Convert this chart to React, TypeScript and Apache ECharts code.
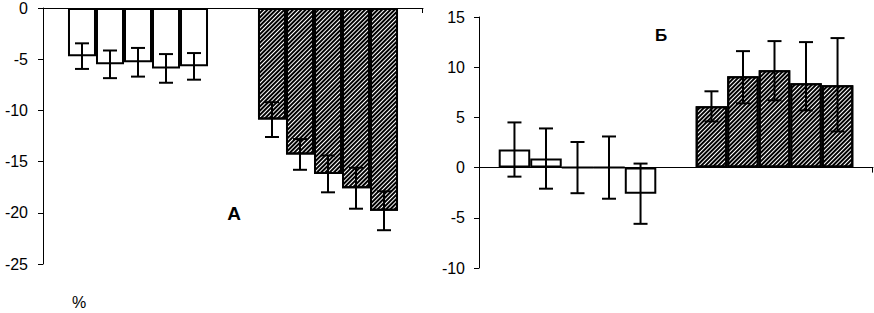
import React, { useEffect, useRef } from "react";
import * as echarts from "echarts";

// Categories (groups) – axis labels are not shown in the original figure
const groupsA = ["I", "II"];
const groupsB = ["I", "II"];
const yTicksA = { min: -25, max: 0, interval: 5 };
const yTicksB = { min: -10, max: 15, interval: 5 };

// Panel A (%), 5 bars per group: white group, hatched group
const whiteA = [-4.7, -5.5, -5.3, -5.9, -5.7];
const whiteAErr = [1.25, 1.35, 1.4, 1.4, 1.3];
const hatchA = [-10.9, -14.3, -16.2, -17.6, -19.8];
const hatchAErr = [1.7, 1.5, 1.8, 2.0, 1.9];

// Panel Б
const whiteB = [1.8, 0.9, 0, 0, -2.6];
const whiteBErr = [2.7, 3.0, 2.55, 3.1, 3.0];
const hatchB = [6.1, 9.1, 9.7, 8.4, 8.2];
const hatchBErrUp = [1.5, 2.5, 2.9, 4.1, 4.7];
const hatchBErrDown = [1.5, 2.7, 3.0, 2.7, 4.6];

const FONT = "Liberation Sans";
const N = 5;

const GRID_A = { left: 43, top: 8, width: 380, height: 256 };
const GRID_B = { left: 479, top: 17, width: 394, height: 251 };

const whiteStyle = { color: "#fff", borderColor: "#000", borderWidth: 2 };
const hatchStyle = {
  color: "#fff",
  borderColor: "#000",
  borderWidth: 2,
  decal: {
    symbol: "rect",
    symbolSize: 1,
    dashArrayX: [1, 0],
    dashArrayY: [2.0, 1.0],
    rotation: -Math.PI / 4,
    color: "#000",
  },
};

function barSeries(white: number[], hatch: number[], axisIdx: number, gap: string) {
  const out: any[] = [];
  for (let s = 0; s < N; s++) {
    out.push({
      type: "bar",
      xAxisIndex: axisIdx,
      yAxisIndex: axisIdx,
      barGap: "0%",
      barCategoryGap: gap,
      data: [
        { value: white[s], itemStyle: whiteStyle },
        { value: hatch[s], itemStyle: hatchStyle },
      ],
      z: 2,
    });
  }
  return out;
}

function errSeries(
  white: number[],
  whiteUp: number[],
  whiteDown: number[],
  hatch: number[],
  hatchUp: number[],
  hatchDown: number[],
  axisIdx: number,
  gapFrac: number
) {
  const data: number[][] = [];
  for (let s = 0; s < N; s++) data.push([0, s, white[s] - whiteDown[s], white[s] + whiteUp[s]]);
  for (let s = 0; s < N; s++) data.push([1, s, hatch[s] - hatchDown[s], hatch[s] + hatchUp[s]]);
  return {
    type: "custom",
    xAxisIndex: axisIdx,
    yAxisIndex: axisIdx,
    encode: { x: 0, y: [2, 3] },
    z: 5,
    data,
    renderItem: (_params: any, api: any) => {
      const cat = api.value(0);
      const s = api.value(1);
      const lo = api.value(2);
      const hi = api.value(3);
      const band = api.size([1, 0])[0];
      const bw = (band * (1 - gapFrac)) / N;
      const cx = api.coord([cat, 0])[0] + (s - (N - 1) / 2) * bw;
      const yLo = api.coord([cat, lo])[1];
      const yHi = api.coord([cat, hi])[1];
      const cap = 7;
      const st = { stroke: "#000", lineWidth: 2 };
      return {
        type: "group",
        children: [
          { type: "line", shape: { x1: cx, y1: yLo, x2: cx, y2: yHi }, style: st },
          { type: "line", shape: { x1: cx - cap, y1: yLo, x2: cx + cap, y2: yLo }, style: st },
          { type: "line", shape: { x1: cx - cap, y1: yHi, x2: cx + cap, y2: yHi }, style: st },
        ],
      };
    },
  };
}

const axisLineStyle = { lineStyle: { color: "#000", width: 1 } };

function xAxisCfg(gridIndex: number, data: string[]) {
  return {
    type: "category",
    gridIndex,
    data,
    axisLine: { ...axisLineStyle, onZero: true },
    axisTick: { show: false },
    axisLabel: { show: false },
    splitLine: { show: false },
  };
}

function yAxisCfg(gridIndex: number, ticks: any, margin: number) {
  return {
    type: "value",
    gridIndex,
    ...ticks,
    axisLine: { show: true, ...axisLineStyle },
    axisTick: { show: true, length: 5, lineStyle: { color: "#000" } },
    axisLabel: { color: "#000", fontFamily: FONT, fontSize: 16, margin },
    splitLine: { show: false },
  };
}

export default function App() {
  const ref = useRef<HTMLDivElement>(null);
  useEffect(() => {
    if (!ref.current) return;
    const chart = echarts.init(ref.current, undefined, { renderer: "svg" });
    const gapA = 0.263;
    const gapB = 0.2;
    chart.setOption({
      animation: false,
      backgroundColor: "#fff",
      grid: [GRID_A, GRID_B],
      xAxis: [xAxisCfg(0, groupsA), xAxisCfg(1, groupsB)],
      yAxis: [yAxisCfg(0, yTicksA, 15), yAxisCfg(1, yTicksB, 14)],
      series: [
        ...barSeries(whiteA, hatchA, 0, gapA * 100 + "%"),
        ...barSeries(whiteB, hatchB, 1, gapB * 100 + "%"),
        errSeries(whiteA, whiteAErr, whiteAErr, hatchA, hatchAErr, hatchAErr, 0, gapA),
        errSeries(whiteB, whiteBErr, whiteBErr, hatchB, hatchBErrUp, hatchBErrDown, 1, gapB),
      ],
    });
    // end ticks of the category axes, placed at the axis' zero line
    const yZeroA = chart.convertToPixel({ yAxisIndex: 0 }, 0) as number;
    const yZeroB = chart.convertToPixel({ yAxisIndex: 1 }, 0) as number;
    const xEndA = GRID_A.left + GRID_A.width;
    const xEndB = GRID_B.left + GRID_B.width;
    const tickSt = { stroke: "#000", lineWidth: 1 };
    chart.setOption({
      graphic: [
        { type: "line", shape: { x1: xEndA - 0.5, y1: yZeroA, x2: xEndA - 0.5, y2: yZeroA + 5 }, style: tickSt },
        { type: "line", shape: { x1: xEndB - 0.5, y1: yZeroB, x2: xEndB - 0.5, y2: yZeroB + 5 }, style: tickSt },
        {
          type: "text",
          x: 234,
          y: 213,
          style: { text: "A", fontFamily: FONT, fontSize: 19, fontWeight: "bold", fill: "#000", align: "center", verticalAlign: "middle" },
        },
        {
          type: "text",
          x: 661,
          y: 35,
          style: { text: "Б", fontFamily: FONT, fontSize: 17, fontWeight: "bold", fill: "#000", align: "center", verticalAlign: "middle" },
        },
        {
          type: "text",
          x: 79,
          y: 302,
          style: { text: "%", fontFamily: FONT, fontSize: 16, fill: "#000", align: "center", verticalAlign: "middle" },
        },
      ],
    });
    return () => chart.dispose();
  }, []);
  return (
    <div
      ref={ref}
      style={{ position: "fixed", left: 0, top: 0, width: 874, height: 313, background: "#fff" }}
    />
  );
}
